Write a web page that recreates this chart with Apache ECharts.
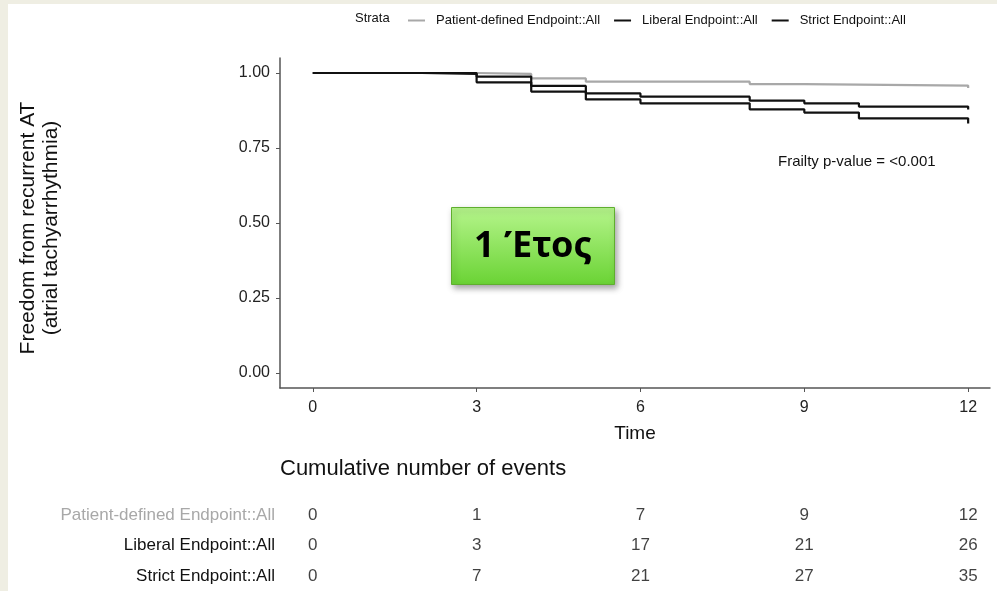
<!DOCTYPE html>
<html>
<head>
<meta charset="utf-8">
<script src="https://cdn.jsdelivr.net/npm/echarts@6/dist/echarts.min.js"></script>
<style>
html,body{margin:0;padding:0;background:#fff;}
#c{width:997px;height:591px;}
</style>
</head>
<body>
<div id="c"></div>
<script>
// ---- data ----
const strata = ['Patient-defined Endpoint::All', 'Liberal Endpoint::All', 'Strict Endpoint::All'];
const strataColors = ['#a8a8a8', '#111111', '#111111'];

const timesPatient = [0, 3, 4, 5, 8, 9, 12];
const survPatient  = [1.0, 0.997, 0.982, 0.971, 0.963, 0.958, 0.950];

const timesLiberal = [0, 3, 4, 5, 6, 8, 9, 10, 12];
const survLiberal  = [1.0, 0.988, 0.957, 0.932, 0.921, 0.908, 0.899, 0.888, 0.878];

const timesStrict  = [0, 2, 3, 4, 5, 6, 8, 9, 10, 12];
const survStrict   = [1.0, 0.997, 0.969, 0.938, 0.912, 0.899, 0.879, 0.868, 0.849, 0.832];

const xTicks = [0, 3, 6, 9, 12];
const yTicks = [0, 0.25, 0.5, 0.75, 1.0];

const tableTimes = [0, 3, 6, 9, 12];
const eventsPatient = [0, 1, 7, 9, 12];
const eventsLiberal = [0, 3, 17, 21, 26];
const eventsStrict  = [0, 7, 21, 27, 35];

const pValueText = 'Frailty p-value = <0.001';
const boxText = '1 Έτος';
// ----------------

const F = "'Liberation Sans', Arial, sans-serif";
const curves = [[timesPatient, survPatient], [timesLiberal, survLiberal], [timesStrict, survStrict]];
const events = [eventsPatient, eventsLiberal, eventsStrict];

const chart = echarts.init(document.getElementById('c'));

const series = [];
curves.forEach((c, k) => {
  series.push({
    name: strata[k], type: 'line', step: 'end', showSymbol: false,
    xAxisIndex: 0, yAxisIndex: 0, z: k === 0 ? 2 : 3,
    data: c[0].map((t, i) => [t, c[1][i]]),
    lineStyle: { color: strataColors[k], width: 2.2 },
    itemStyle: { color: strataColors[k] },
    emphasis: { disabled: true }
  });
});
events.forEach((ev, k) => {
  series.push({
    type: 'scatter', xAxisIndex: 1, yAxisIndex: 1, symbolSize: 0,
    data: tableTimes.map((t, i) => [t, strata[k], ev[i]]),
    label: { show: true, position: 'inside', formatter: p => p.value[2],
             fontFamily: F, fontSize: 17, color: '#111' },
    emphasis: { disabled: true }
  });
});

chart.setOption({
  animation: false,
  backgroundColor: '#ffffff',
  textStyle: { fontFamily: F },
  legend: {
    data: strata, left: 403, top: 9, itemGap: 14,
    icon: 'rect', itemWidth: 17, itemHeight: 2,
    textStyle: { fontFamily: F, fontSize: 13, color: '#111', padding: [0, 0, 0, 6] }
  },
  grid: [
    { left: 280, right: 7, top: 58, bottom: 203 },
    { left: 280, right: 7, top: 500, height: 96 }
  ],
  xAxis: [
    { type: 'value', gridIndex: 0, min: -0.6, max: 12.4,
      name: 'Time', nameLocation: 'middle', nameGap: 36,
      nameTextStyle: { fontFamily: F, fontSize: 19, color: '#111' },
      axisLine: { show: true, onZero: false, lineStyle: { color: '#555', width: 1.5 } },
      axisTick: { show: true, length: 4, lineStyle: { color: '#555' }, customValues: xTicks },
      axisLabel: { fontFamily: F, fontSize: 16, color: '#222', margin: 12, customValues: xTicks },
      splitLine: { show: false } },
    { type: 'value', gridIndex: 1, min: -0.6, max: 12.4, show: false }
  ],
  yAxis: [
    { type: 'value', gridIndex: 0, min: -0.05, max: 1.05,
      axisLine: { show: true, onZero: false, lineStyle: { color: '#555', width: 1.5 } },
      axisTick: { show: true, length: 4, lineStyle: { color: '#555' }, customValues: yTicks },
      axisLabel: { fontFamily: F, fontSize: 16, color: '#222', margin: 10, customValues: yTicks,
                   formatter: v => v.toFixed(2) },
      splitLine: { show: false } },
    { type: 'category', gridIndex: 1, data: strata, inverse: true,
      axisLine: { show: false }, axisTick: { show: false },
      axisLabel: { fontFamily: F, fontSize: 17, margin: 5,
                   color: (v, i) => (i === 0 ? '#a8a8a8' : '#111') } }
  ],
  graphic: [
    { type: 'rect', left: 0, top: 0, shape: { width: 8, height: 591 }, style: { fill: '#efeee3' }, silent: true },
    { type: 'rect', left: 0, top: 0, shape: { width: 997, height: 4 }, style: { fill: '#efeee3' }, silent: true },
    { type: 'text', left: 355, top: 12, style: { text: 'Strata', font: '13px ' + F, fill: '#111' } },
    { type: 'text', left: 778, top: 154, style: { text: pValueText, font: '15px ' + F, fill: '#111' } },
    { type: 'text', x: 40, y: 228, rotation: Math.PI / 2,
      style: { text: 'Freedom from recurrent AT\n(atrial tachyarrhythmia)', font: '21px ' + F,
               fill: '#111', align: 'center', verticalAlign: 'middle', lineHeight: 23 } },
    { type: 'text', left: 280, top: 458, style: { text: 'Cumulative number of events', font: '22px ' + F, fill: '#111' } },
    { type: 'rect', left: 451, top: 207, z: 10,
      shape: { width: 163, height: 77 },
      style: { fill: new echarts.graphic.LinearGradient(0, 0, 0, 1, [
                 { offset: 0, color: '#b6f58c' }, { offset: 1, color: '#6ad334' }]),
               stroke: '#5fae2e', lineWidth: 1,
               shadowBlur: 6, shadowOffsetX: 2, shadowOffsetY: 3, shadowColor: 'rgba(0,0,0,0.35)' } },
    { type: 'text', x: 533, y: 247, z: 11,
      style: { text: boxText, font: 'bold 36px "Noto Sans", "Open Sans", sans-serif', fill: '#000',
               align: 'center', verticalAlign: 'middle' } }
  ],
  series: series
});
</script>
</body>
</html>
